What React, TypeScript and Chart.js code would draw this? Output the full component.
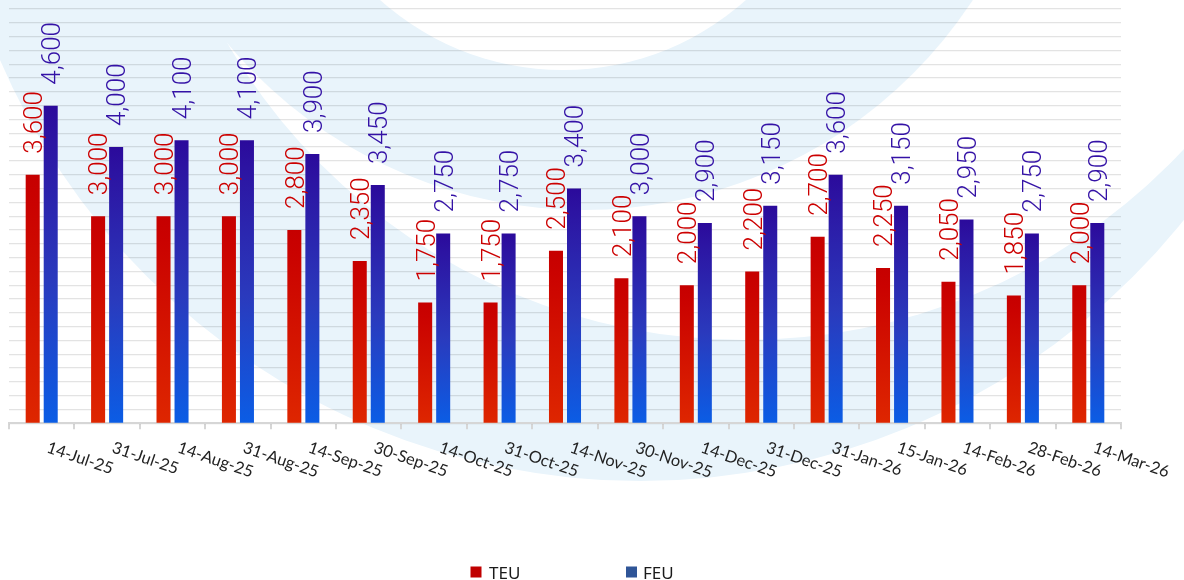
import React, { useEffect, useRef } from "react";
import { Chart, registerables } from "chart.js";

Chart.register(...registerables);

const CATEGORIES = [
  "14-Jul-25", "31-Jul-25", "14-Aug-25", "31-Aug-25", "14-Sep-25", "30-Sep-25",
  "14-Oct-25", "31-Oct-25", "14-Nov-25", "30-Nov-25", "14-Dec-25", "31-Dec-25",
  "31-Jan-26", "15-Jan-26", "14-Feb-26", "28-Feb-26", "14-Mar-26",
];
const TEU = [3600, 3000, 3000, 3000, 2800, 2350, 1750, 1750, 2500, 2100, 2000, 2200, 2700, 2250, 2050, 1850, 2000];
const FEU = [4600, 4000, 4100, 4100, 3900, 3450, 2750, 2750, 3400, 3000, 2900, 3150, 3600, 3150, 2950, 2750, 2900];
const SERIES_NAMES = ["TEU", "FEU"];
const Y_MIN = 0;
const Y_MAX = 6000;
const Y_STEP = 200;

const W = 1184;
const H = 580;

const TEU_STOPS: [number, string][] = [[0, "#c60000"], [0.12, "#ca0200"], [1, "#de2600"]];
const FEU_STOPS: [number, string][] = [[0, "#2b0a9b"], [0.1, "#2c14a2"], [0.55, "#2a3abd"], [1, "#0b5de5"]];
const LABEL_COLORS = ["#cc0000", "#3412a6"];
const LEGEND_COLORS = ["#c00000", "#2f5597"];
const WATERMARK = "#e9f4fb";

function gradientFill(stops: [number, string][], fallback: string) {
  return (ctx: any) => {
    const chart = ctx.chart;
    if (!chart.chartArea || ctx.type !== "data") return fallback;
    const ys = chart.scales.y;
    const top = ys.getPixelForValue(ctx.raw);
    const bot = ys.getPixelForValue(0);
    if (!isFinite(top) || !isFinite(bot) || bot - top < 1) return fallback;
    const g = chart.ctx.createLinearGradient(0, top, 0, bot);
    stops.forEach(([o, c]) => g.addColorStop(o, c));
    return g;
  };
}

const watermarkPlugin = {
  id: "watermark",
  beforeDraw(chart: any) {
    const c = chart.ctx;
    c.save();
    c.fillStyle = "#ffffff";
    c.fillRect(0, 0, chart.width, chart.height);
    const circle = (x: number, y: number, r: number, col: string) => {
      c.beginPath();
      c.arc(x, y, r, 0, Math.PI * 2);
      c.fillStyle = col;
      c.fill();
    };
    circle(640, -216, 697, WATERMARK);
    circle(745, -260, 600, "#ffffff");
    circle(584, -255, 465, WATERMARK);
    circle(563, -204, 274, "#ffffff");
    c.restore();
  },
};

const labelsPlugin = {
  id: "valueLabels",
  afterDatasetsDraw(chart: any) {
    const c = chart.ctx;
    const fs = 26;
    chart.data.datasets.forEach((ds: any, di: number) => {
      const meta = chart.getDatasetMeta(di);
      meta.data.forEach((bar: any, i: number) => {
        const v = ds.data[i];
        const txt = v.toLocaleString("en-US");
        c.save();
        c.translate(bar.x, bar.y - 21);
        c.rotate(-Math.PI / 2);
        c.font = `300 ${fs}px Roboto, "Liberation Sans", Arial, sans-serif`;
        c.fillStyle = LABEL_COLORS[di];
        c.textAlign = "left";
        c.textBaseline = "alphabetic";
        c.fillText(txt, 0, 0.36 * fs);
        c.restore();
      });
    });
  },
  afterDraw(chart: any) {
    const c = chart.ctx;
    const xs = chart.scales.x;
    const family = `Lato, Inter, "Open Sans", sans-serif`;
    c.save();
    c.font = `15px ${family}`;
    const base = c.measureText("14-Jul-25").width || 60;
    const fs = (15 * 69) / base;
    c.restore();
    CATEGORIES.forEach((lab, i) => {
      const cx = xs.getPixelForTick(i);
      c.save();
      c.translate(cx + 4, 452);
      c.rotate((19 * Math.PI) / 180);
      c.font = `${fs.toFixed(2)}px ${family}`;
      c.fillStyle = "#222222";
      c.textAlign = "left";
      c.textBaseline = "alphabetic";
      c.fillText(lab, 0, 0);
      c.restore();
    });
    const items = [
      { x: 470.5, tx: 489 },
      { x: 626, tx: 643 },
    ];
    c.save();
    c.font = `17px "Noto Sans", sans-serif`;
    c.textAlign = "left";
    c.textBaseline = "alphabetic";
    items.forEach((it, k) => {
      c.fillStyle = LEGEND_COLORS[k];
      c.fillRect(it.x, 566.5, 11, 11);
      c.fillStyle = "#1a1a1a";
      c.fillText(SERIES_NAMES[k], it.tx, 579);
    });
    c.restore();
  },
};

export default function App() {
  const ref = useRef<HTMLCanvasElement | null>(null);
  useEffect(() => {
    document.body.style.margin = "0";
    const canvas = ref.current;
    if (!canvas) return;
    const chart = new Chart(canvas, {
      type: "bar",
      data: {
        labels: CATEGORIES,
        datasets: [
          {
            label: SERIES_NAMES[0],
            data: TEU,
            backgroundColor: gradientFill(TEU_STOPS, "#d01000") as any,
            categoryPercentage: 0.551,
            barPercentage: 0.778,
          },
          {
            label: SERIES_NAMES[1],
            data: FEU,
            backgroundColor: gradientFill(FEU_STOPS, "#2a30b0") as any,
            categoryPercentage: 0.551,
            barPercentage: 0.778,
          },
        ],
      },
      options: {
        responsive: false,
        animation: false,
        events: [],
        layout: { padding: { left: 9, right: 63, top: 9, bottom: 0 } },
        plugins: {
          legend: { display: false },
          tooltip: { enabled: false },
        },
        scales: {
          x: {
            offset: true,
            grid: {
              display: true,
              drawOnChartArea: false,
              drawTicks: true,
              tickLength: 6,
              color: "#d6d6d6",
              lineWidth: 2,
              offset: true,
            },
            border: { display: true, color: "#d6d6d6", width: 2 },
            ticks: { display: false },
            afterFit: (s: any) => {
              s.height = 156.7;
            },
          },
          y: {
            min: Y_MIN,
            max: Y_MAX,
            ticks: { display: false, stepSize: Y_STEP },
            grid: { color: "rgba(0,0,0,0.11)", lineWidth: 1.3, drawTicks: false },
            border: { display: false },
            afterFit: (s: any) => {
              s.width = 0;
            },
          },
        },
      },
      plugins: [watermarkPlugin, labelsPlugin],
    });
    return () => chart.destroy();
  }, []);
  return (
    <div style={{ width: W, height: H, position: "relative" }}>
      <canvas ref={ref} width={W} height={H} style={{ width: W, height: H, display: "block" }} />
    </div>
  );
}
